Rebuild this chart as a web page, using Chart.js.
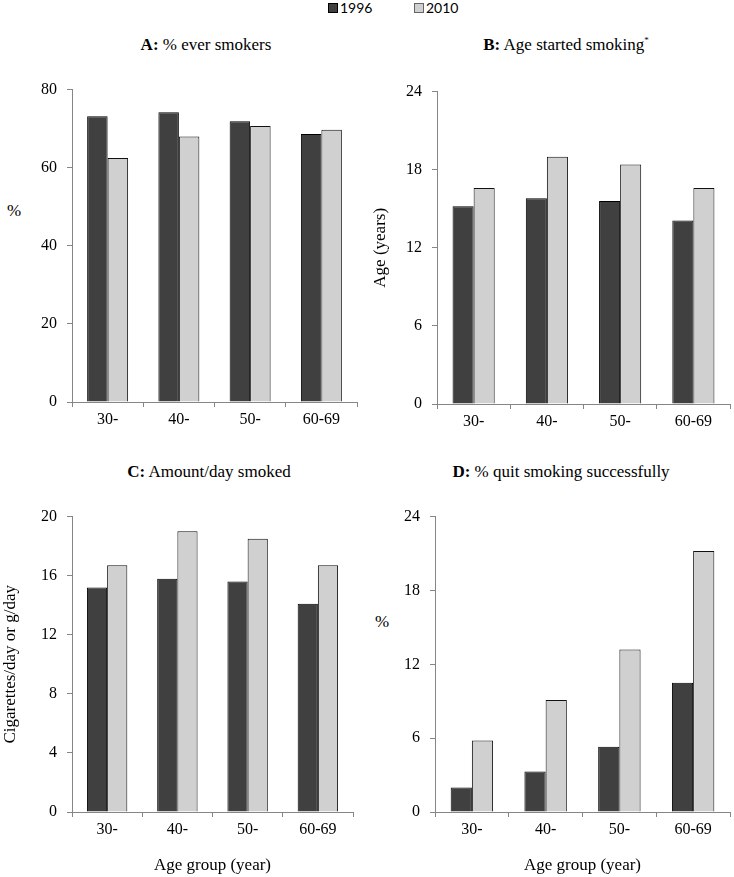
<!DOCTYPE html>
<html lang="en">
<head>
<meta charset="UTF-8">
<title>Smoking by age group, 1996 and 2010</title>
<script src="https://cdn.jsdelivr.net/npm/chart.js"></script>
<style>
  body {
    margin: 0;
    width: 734px;
    height: 877px;
    position: relative;
    overflow: hidden;
    background: #fff;
    color: #000;
    font-family: "Liberation Serif", "Times New Roman", serif;
  }
  .box { position: absolute; }
  .ttl {
    position: absolute;
    font-size: 17px;
    white-space: nowrap;
    transform: translate(-50%, -50%);
  }
  .ttl sup { font-size: 9px; }
  .ylab {
    position: absolute;
    font-size: 17px;
    transform: translate(-50%, -50%);
  }
  .legend {
    position: absolute;
    top: 0;
    font-family: Lato, "Liberation Sans", sans-serif;
    font-size: 14px;
    line-height: 15px;
    white-space: nowrap;
  }
  .legend span.sw {
    display: inline-block;
    width: 8px;
    height: 8px;
    margin-right: 2px;
    vertical-align: 0px;
  }
</style>
</head>
<body>

<div class="legend" style="left:328px"><span class="sw" style="background:#404040;border:1px solid #000"></span>1996</div>
<div class="legend" style="left:414px"><span class="sw" style="background:#d0d0d0;border:1px solid #666"></span>2010</div>

<div class="ttl" style="left:206px;top:45px"><b>A:</b> % ever smokers</div>
<div class="ttl" style="left:566px;top:45px"><b>B:</b> Age started smoking<sup>*</sup></div>
<div class="ttl" style="left:209px;top:472px"><b>C:</b> Amount/day smoked</div>
<div class="ttl" style="left:561px;top:472px"><b>D:</b> % quit smoking successfully</div>

<div class="ylab" style="left:14px;top:211px">%</div>
<div class="ylab" style="left:382px;top:622px">%</div>

<div class="box" style="left:0;top:70px"><canvas id="chartA" width="367" height="360"></canvas></div>
<div class="box" style="left:367px;top:72px"><canvas id="chartB" width="367" height="360"></canvas></div>
<div class="box" style="left:0;top:497px"><canvas id="chartC" width="367" height="380"></canvas></div>
<div class="box" style="left:367px;top:497px"><canvas id="chartD" width="367" height="380"></canvas></div>

<script>
  // categories and series
  const ageGroups = ['30-', '40-', '50-', '60-69'];
  const years = ['1996', '2010'];

  const everSmokers1996 = [73.2, 74.2, 71.9, 68.6];
  const everSmokers2010 = [62.5, 68.0, 70.7, 69.7];

  const ageStarted1996 = [15.2, 15.8, 15.6, 14.1];
  const ageStarted2010 = [16.6, 19.0, 18.4, 16.6];

  const amountDay1996 = [15.2, 15.8, 15.6, 14.1];
  const amountDay2010 = [16.7, 19.0, 18.5, 16.7];

  const quit1996 = [2.0, 3.3, 5.3, 10.5];
  const quit2010 = [5.8, 9.1, 13.2, 21.2];

  // y tick values per panel
  const ticksA = [0, 20, 40, 60, 80];
  const ticksB = [0, 6, 12, 18, 24];
  const ticksC = [0, 4, 8, 12, 16, 20];
  const ticksD = [0, 6, 12, 18, 24];

  const axisGrey = '#868686';
  const tickFont = { family: '"Liberation Serif", "Times New Roman", serif', size: 16 };

  function makePanel(id, d1996, d2010, ticks, opt) {
    const ctx = document.getElementById(id).getContext('2d');
    return new Chart(ctx, {
      type: 'bar',
      data: {
        labels: ageGroups,
        datasets: [{
          label: years[0],
          data: d1996,
          backgroundColor: '#404040',
          borderColor: '#000',
          borderWidth: 1
        }, {
          label: years[1],
          data: d2010,
          backgroundColor: '#d0d0d0',
          borderColor: '#111',
          borderWidth: 1
        }]
      },
      options: {
        responsive: false,
        animation: false,
        categoryPercentage: 0.575,
        barPercentage: 1.0,
        layout: {
          padding: { top: 12, right: opt.right, left: 0, bottom: opt.bottom }
        },
        plugins: {
          legend: { display: false },
          tooltip: { enabled: false }
        },
        scales: {
          x: {
            afterFit: s => { s.height = opt.xHeight; },
            grid: { drawOnChartArea: false, drawTicks: true, tickLength: 5, color: axisGrey },
            border: { color: axisGrey },
            ticks: { color: '#000', font: tickFont, padding: 3, maxRotation: 0 },
            title: {
              display: !!opt.xTitle,
              text: opt.xTitle || '',
              color: '#000',
              font: { family: tickFont.family, size: 17 },
              padding: { top: 0, bottom: 0 }
            }
          },
          y: {
            min: ticks[0],
            max: ticks[ticks.length - 1],
            afterFit: s => { s.width = opt.yWidth; },
            afterBuildTicks: s => { s.ticks = ticks.map(v => ({ value: v })); },
            grid: { drawOnChartArea: false, drawTicks: true, tickLength: 5, color: axisGrey },
            border: { color: axisGrey },
            ticks: { color: '#000', font: tickFont, padding: 10 },
            title: {
              display: !!opt.yTitle,
              text: opt.yTitle || '',
              color: '#000',
              font: { family: tickFont.family, size: 17 },
              padding: { top: opt.yTitlePad || 0, bottom: 0 }
            }
          }
        }
      }
    });
  }

  makePanel('chartA', everSmokers1996, everSmokers2010, ticksA,
    { right: 10, bottom: 0, xHeight: 28, yWidth: 72 });
  makePanel('chartB', ageStarted1996, ageStarted2010, ticksB,
    { right: 4, bottom: 0, xHeight: 28, yWidth: 70, yTitle: 'Age (years)', yTitlePad: 3 });
  makePanel('chartC', amountDay1996, amountDay2010, ticksC,
    { right: 14, bottom: 1, xHeight: 64, yWidth: 72, yTitle: 'Cigarettes/day or g/day', yTitlePad: 0, xTitle: 'Age group (year)' });
  makePanel('chartD', quit1996, quit2010, ticksD,
    { right: 4, bottom: 1, xHeight: 64, yWidth: 68, xTitle: 'Age group (year)' });
</script>

</body>
</html>
